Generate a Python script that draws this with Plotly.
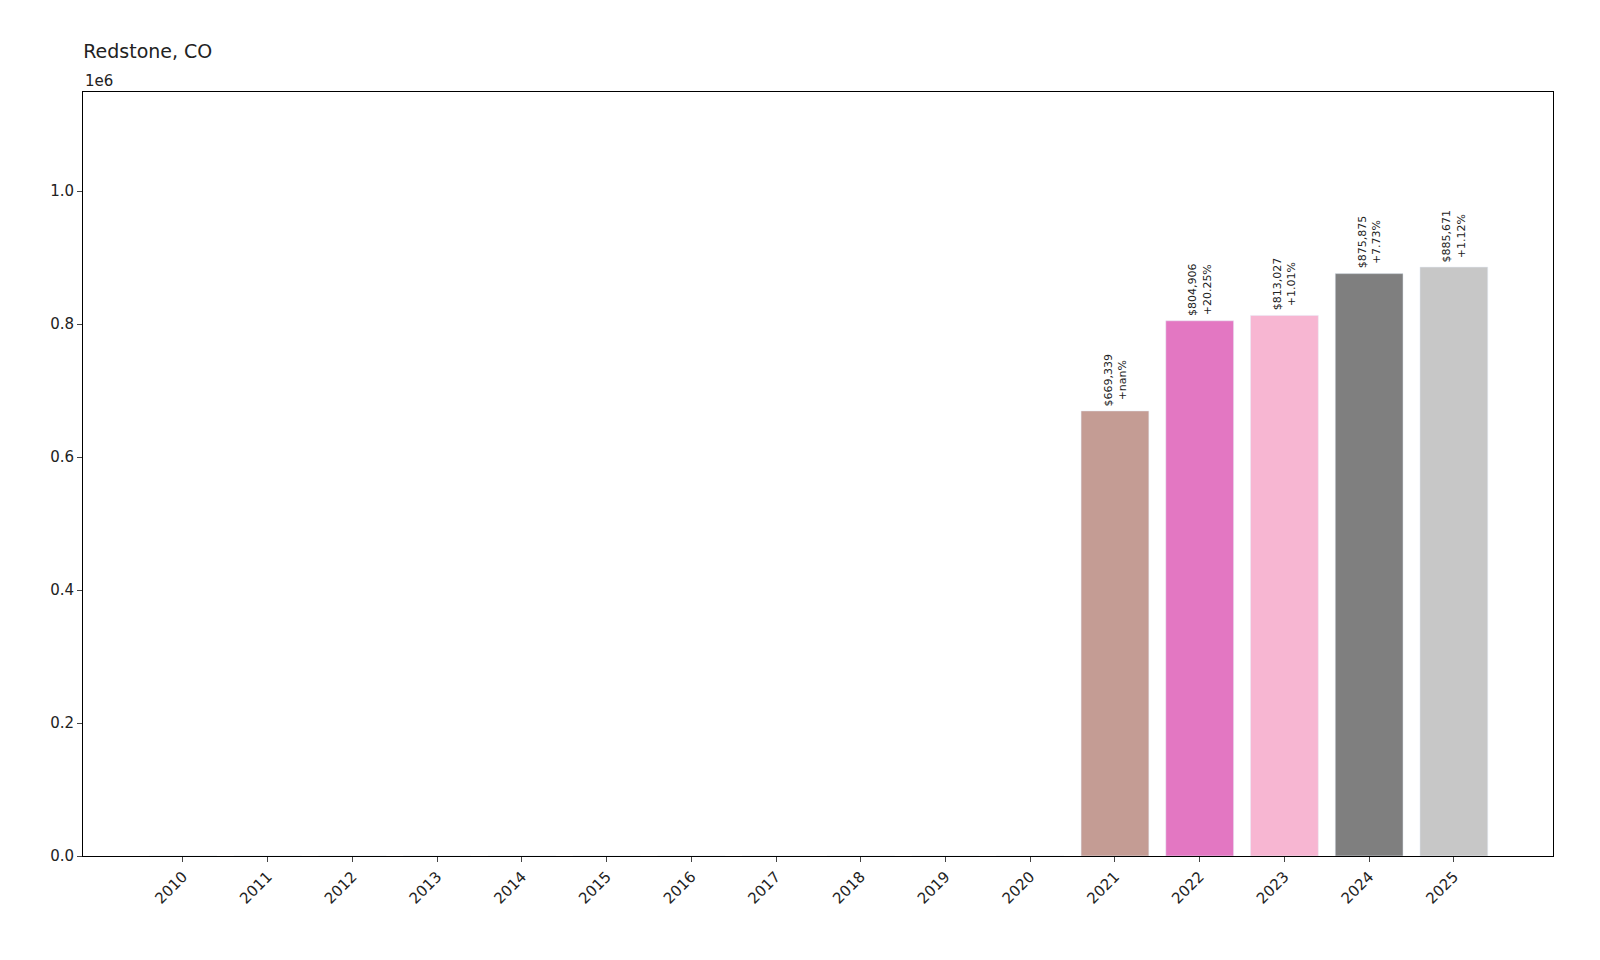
import plotly.graph_objects as go

years = list(range(2010, 2026))
values = [0, 0, 0, 0, 0, 0, 0, 0, 0, 0, 0, 669339, 804906, 813027, 875875, 885671]
changes = [None] * 11 + ["+nan%", "+20.25%", "+1.01%", "+7.73%", "+1.12%"]
colors = ["#1f77b4", "#aec7e8", "#ff7f0e", "#ffbb78", "#2ca02c", "#98df8a", "#d62728", "#ff9896",
          "#9467bd", "#c5b0d5", "#8c564b", "#c49c94", "#e377c2", "#f7b6d2", "#7f7f7f", "#c7c7c7"]

xs = list(range(len(years)))
fig = go.Figure(go.Bar(x=xs, y=values, marker_color=colors, width=0.8, hoverinfo="x+y"))

for i, (v, c) in enumerate(zip(values, changes)):
    if c is None:
        continue
    fig.add_annotation(x=i, y=v, text=f"${v:,}<br>{c}", textangle=-90, showarrow=False,
                       xanchor="center", yanchor="bottom", yshift=3,
                       font=dict(size=11, color="#222"))

fig.add_annotation(text="1e6", xref="paper", yref="paper", x=0, y=1, xanchor="left",
                   yanchor="bottom", showarrow=False, font=dict(size=15, color="#222"))

fig.update_layout(
    width=1600, height=960, plot_bgcolor="white", paper_bgcolor="white",
    font=dict(family="DejaVu Sans", size=15, color="#222"),
    title=dict(text="Redstone, CO", x=0.047, xanchor="left", y=0.962, font=dict(size=19)),
    margin=dict(l=75, r=55, t=84, b=112),
    showlegend=False,
    xaxis=dict(range=[-1.18, 16.17], tickvals=xs, ticktext=[str(y) for y in years],
               tickangle=-45, showgrid=False, zeroline=False, showline=True, mirror=True,
               linecolor="black", ticks="outside", ticklen=5),
    yaxis=dict(range=[0, 1.149e6], tickvals=[0, 2e5, 4e5, 6e5, 8e5, 1e6],
               ticktext=["0.0", "0.2", "0.4", "0.6", "0.8", "1.0"], showgrid=False,
               zeroline=False, showline=True, mirror=True, linecolor="black",
               ticks="outside", ticklen=5),
)

fig.write_html("out.html")
